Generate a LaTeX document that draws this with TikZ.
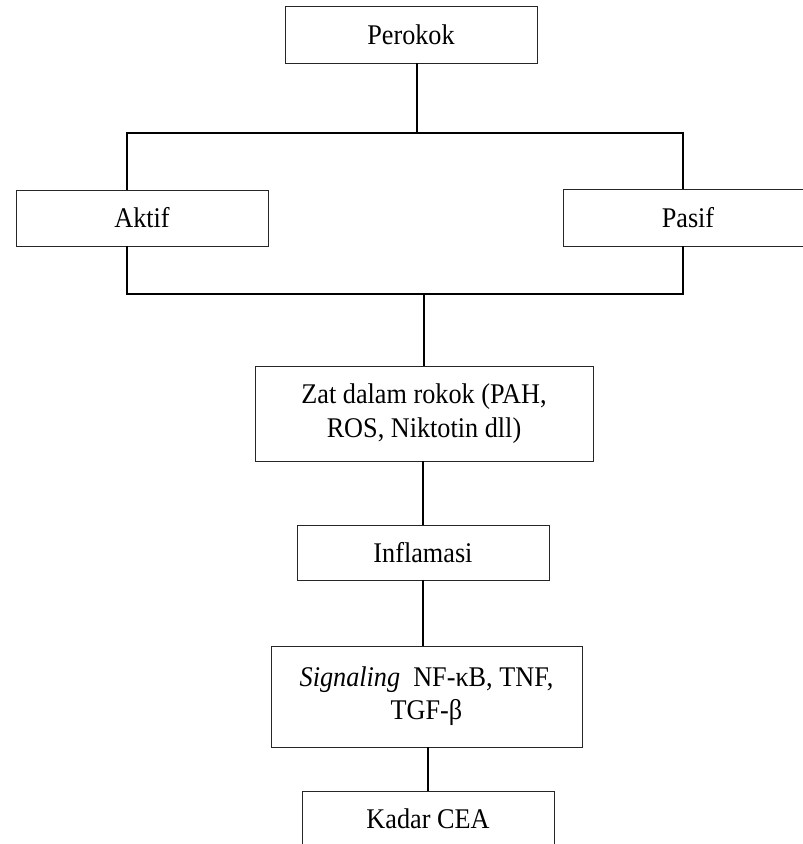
\documentclass[tikz,border=0pt]{standalone}
\usepackage{fontspec}
\setmainfont[FakeStretch=0.92]{Liberation Serif}
\begin{document}
\begin{tikzpicture}[x=1pt,y=-1pt,
  box/.style={draw=black!85, line width=1pt, inner sep=0pt, align=center,
    font=\fontsize{28.5}{33.5}\selectfont},
  wire/.style={line width=1.8pt, line cap=rect, line join=miter}]
\useasboundingbox (0,0) rectangle (803,844);
% boxes
\node[box, minimum width=252pt, minimum height=57pt] (perokok) at (411,35) {Perokok};
\node[box, minimum width=252pt, minimum height=56pt] (aktif) at (142,218) {Aktif};
\node[box, minimum width=250pt, minimum height=57pt] (pasif) at (688,217.5) {Pasif};
\node[box, minimum width=338pt, minimum height=95pt] (zat) at (424,413.5) {Zat dalam rokok (PAH,\\ROS, Niktotin dll)};
\node[box, minimum width=252pt, minimum height=55pt] (inflamasi) at (423,552.5) {Inflamasi};
\node[box, minimum width=311pt, minimum height=101pt] (signaling) at (426.5,696.5) {\raisebox{6pt}{\begin{tabular}{@{}c@{}}\textit{Signaling}\ \ NF-κB, TNF,\\TGF-β\end{tabular}}};
\node[box, minimum width=252pt, minimum height=56pt] (kadar) at (428,819) {Kadar CEA};
% junction points
\coordinate (t0) at (417,133);
\coordinate (tl) at (127,133);
\coordinate (tr) at (683,133);
\coordinate (bl) at (127,294);
\coordinate (br) at (683,294);
\coordinate (b0) at (424,294);
% connectors
\draw[wire] (perokok.south -| t0) -- (t0);
\draw[wire] (aktif.north -| tl) -- (tl) -- (tr) -- (pasif.north -| tr);
\draw[wire] (aktif.south -| bl) -- (bl) -- (br) -- (pasif.south -| br);
\draw[wire] (b0) -- (zat.north -| b0);
\draw[wire] (zat.south -| inflamasi.north) -- (inflamasi.north);
\draw[wire] (inflamasi.south) -- (inflamasi.south |- signaling.north);
\draw[wire] (signaling.south -| kadar.north) -- (kadar.north);
\end{tikzpicture}
\end{document}
